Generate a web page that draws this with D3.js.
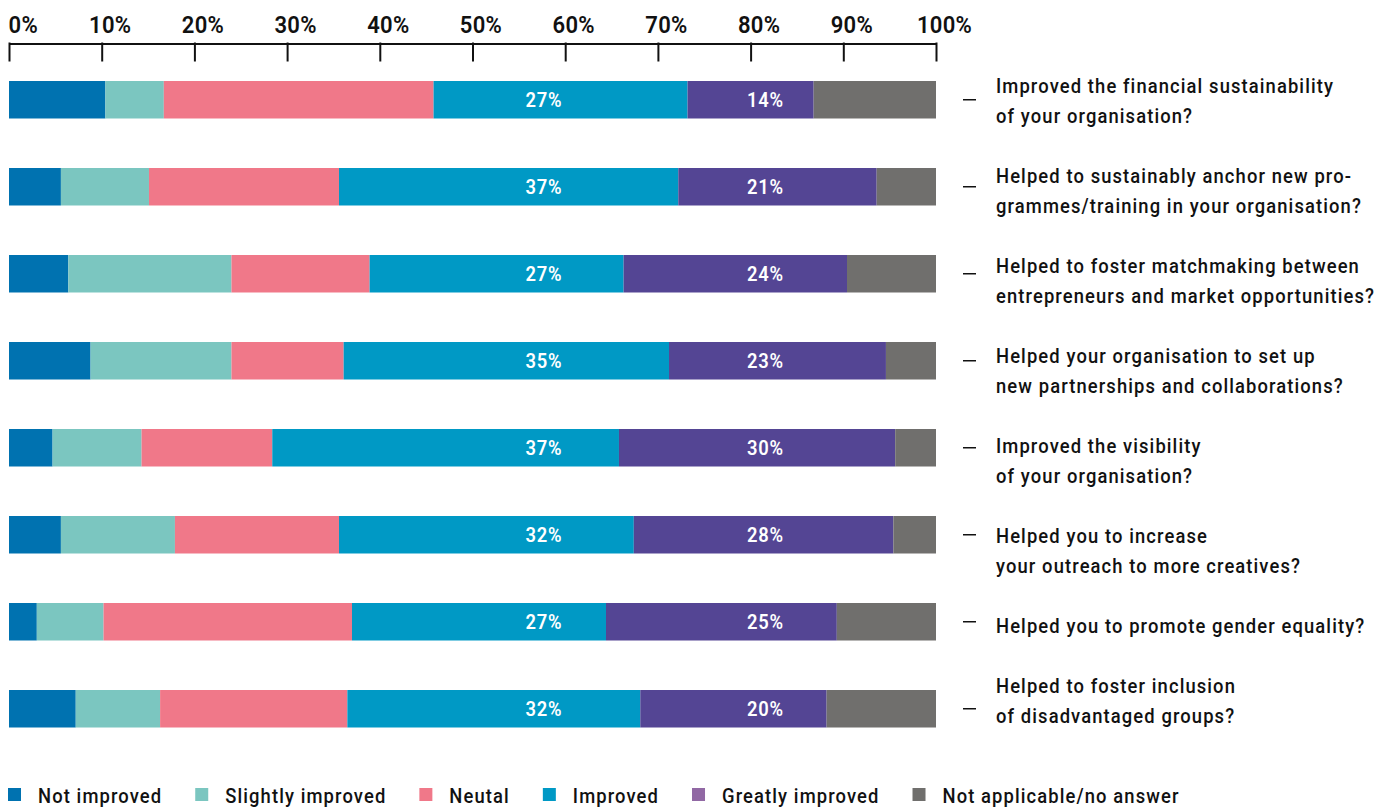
<!DOCTYPE html>
<html>
<head>
<meta charset="utf-8">
<script src="https://cdn.jsdelivr.net/npm/d3@7/dist/d3.min.js"></script>
<style>
  body { margin: 0; background: #fff; }
  text { font-family: Roboto, "Noto Sans", "DejaVu Sans", sans-serif; font-weight: 500; }
</style>
</head>
<body>
<script>
'use strict';

(function() {
  const categories = [
    "Improved the financial sustainability\nof your organisation?",
    "Helped to sustainably anchor new pro-\ngrammes/training in your organisation?",
    "Helped to foster matchmaking between\nentrepreneurs and market opportunities?",
    "Helped your organisation to set up\nnew partnerships and collaborations?",
    "Improved the visibility\nof your organisation?",
    "Helped you to increase\nyour outreach to more creatives?",
    "Helped you to promote gender equality?",
    "Helped to foster inclusion\nof disadvantaged groups?"
  ];
  const series = ["Not improved", "Slightly improved", "Neutal", "Improved", "Greatly improved", "Not applicable/no answer"];
  const notImproved      = [10.4, 5.6, 6.4, 8.8, 4.7, 5.6, 3.0, 7.2];
  const slightlyImproved = [6.3, 9.5, 17.6, 15.2, 9.6, 12.3, 7.2, 9.1];
  const neutral          = [29.1, 20.5, 14.9, 12.1, 14.1, 17.7, 26.8, 20.2];
  const improved         = [27.4, 36.6, 27.4, 35.1, 37.4, 31.8, 27.4, 31.6];
  const greatlyImproved  = [13.6, 21.4, 24.1, 23.4, 29.8, 28.0, 24.9, 20.1];
  const notApplicable    = [13.2, 6.4, 9.6, 5.4, 4.4, 4.6, 10.7, 11.8];
  const tickValues = [0, 10, 20, 30, 40, 50, 60, 70, 80, 90, 100];
  const labelledSeries = ["Improved", "Greatly improved"];

  const colors = {
    "Not improved": "#0072B0",
    "Slightly improved": "#7BC6C0",
    "Neutal": "#F07889",
    "Improved": "#0099C5",
    "Greatly improved": "#544594",
    "Not applicable/no answer": "#706F6D"
  };
  const legendColors = Object.assign({}, colors, { "Greatly improved": "#9168A4" });

  let width = 1394;
  let heigh = 807;
  let SX = 0.92; // squeeze text horizontally, the original uses a condensed face

  let svgContainer = d3.select('body')
    .append('svg')
    .attr('width', width)
    .attr('height', heigh);

  function place(sel, x, y) {
    return sel.attr('x', 0).attr('y', 0)
      .attr('transform', 'translate(' + x + ',' + y + ') scale(' + SX + ',1)');
  }

  let allSeries = [notImproved, slightlyImproved, neutral, improved, greatlyImproved, notApplicable];
  let rows = categories.map(function(c, i) {
    let row = { cat: c };
    series.forEach(function(s, j) { row[s] = allSeries[j][i]; });
    return row;
  });
  let stacked = d3.stack().keys(series)(rows);

  let xScale = d3.scaleLinear().domain([0, 100]).range([9, 936]);
  let yScale = d3.scaleBand()
    .domain(categories)
    .range([81, 727.5])
    .paddingInner(0.569)
    .paddingOuter(0);

  // top axis
  let xAxis = d3.axisTop(xScale)
    .tickValues(tickValues)
    .tickSize(0)
    .tickFormat(function(d) { return d + '%'; });
  let axisG = svgContainer.append('g')
    .attr('transform', 'translate(0, 43.5)')
    .call(xAxis);
  axisG.select('.domain').attr('stroke', '#111').attr('stroke-width', 2);
  axisG.selectAll('.tick line').remove();
  axisG.selectAll('.tick').append('line')
    .attr('y1', -1).attr('y2', 18)
    .attr('stroke', '#111').attr('stroke-width', 2);
  axisG.selectAll('.tick text')
    .attr('dy', 0)
    .attr('text-anchor', function(d) { return d === 0 ? 'start' : 'middle'; })
    .attr('fill', '#111')
    .style('font-size', '24px')
    .style('font-weight', 600)
    .style('letter-spacing', '0.3px')
    .each(function(d) { place(d3.select(this), d === 0 ? -1 : 8, -11); });

  // bars
  let layers = svgContainer.selectAll('.layer')
    .data(stacked)
    .enter()
    .append('g')
      .attr('class', 'layer')
      .attr('fill', function(d) { return colors[d.key]; });

  layers.selectAll('rect')
    .data(function(d) { return d; })
    .enter()
    .append('rect')
      .attr('x', function(d) { return xScale(d[0]); })
      .attr('y', function(d) { return yScale(d.data.cat); })
      .attr('width', function(d) { return xScale(d[1]) - xScale(d[0]); })
      .attr('height', yScale.bandwidth());

  // value labels sit in two fixed columns
  let labelColumn = { "Improved": 57.7, "Greatly improved": 81.6 };
  stacked.filter(function(d) { return labelledSeries.indexOf(d.key) !== -1; }).forEach(function(layer) {
    svgContainer.selectAll('.val-' + layer.index)
      .data(layer)
      .enter()
      .append('text')
        .attr('class', 'val-' + layer.index)
        .attr('text-anchor', 'middle')
        .attr('fill', '#fff')
        .style('font-size', '20px')
        .style('font-weight', 600)
        .style('letter-spacing', '0.8px')
        .text(function(d) { return Math.round(d[1] - d[0]) + '%'; })
        .each(function(d) {
          place(d3.select(this), xScale(labelColumn[layer.key]), yScale(d.data.cat) + yScale.bandwidth() / 2 + 7);
        });
  });

  // category labels on the right
  categories.forEach(function(c, i) {
    let lines = c.split('\n');
    let cy = yScale(c) + yScale.bandwidth() / 2;
    svgContainer.append('line')
      .attr('x1', 963).attr('x2', 976)
      .attr('y1', cy).attr('y2', cy)
      .attr('stroke', '#111').attr('stroke-width', 1.5);

    let first = 93 + 90 * i;
    if (i === categories.length - 1) first = first - (lines.length - 1) * 30;
    lines.forEach(function(l, k) {
      let t = svgContainer.append('text')
        .attr('fill', '#111')
        .style('font-size', '20px')
        .style('letter-spacing', '1.2px')
        .text(l);
      place(t, 996, first + k * 30);
    });
  });

  // legend
  let lx = 8;
  series.forEach(function(s) {
    svgContainer.append('rect')
      .attr('x', lx).attr('y', 788)
      .attr('width', 13).attr('height', 13)
      .attr('fill', legendColors[s]);
    let t = svgContainer.append('text')
      .attr('fill', '#111')
      .style('font-size', '20px')
      .style('letter-spacing', '1.2px')
      .text(s);
    place(t, lx + 30, 803);
    lx = lx + 30 + t.node().getComputedTextLength() * SX + 33;
  });
})();
</script>
</body>
</html>
